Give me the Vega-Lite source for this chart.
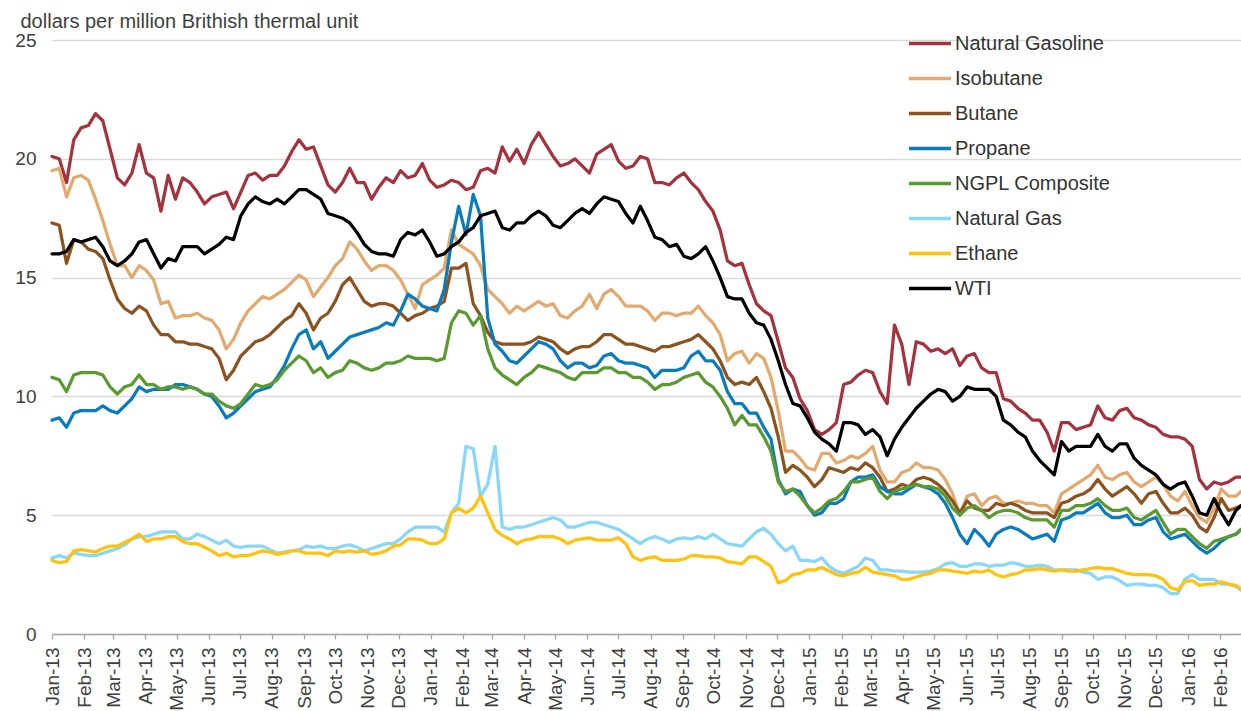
{
"$schema":"https://vega.github.io/schema/vega-lite/v6.json",
"autosize":{"type":"none"},
"width":1189,"height":594,
"padding":{"left":52,"top":40,"right":0,"bottom":77},
"background":"white",
"config":{"view":{"stroke":null},"font":"Liberation Sans"},
"data":{"values":[
{"d":"2013-01-01","a":20.1,"i":19.5,"b":17.3,"p":9.0,"g":10.8,"n":3.2,"e":3.1,"w":16.0},
{"d":"2013-01-08","a":20.0,"i":19.6,"b":17.2,"p":9.1,"g":10.7,"n":3.3,"e":3.0,"w":16.0},
{"d":"2013-01-15","a":19.0,"i":18.4,"b":15.6,"p":8.7,"g":10.2,"n":3.2,"e":3.05,"w":16.1},
{"d":"2013-01-22","a":20.8,"i":19.2,"b":16.6,"p":9.3,"g":10.9,"n":3.4,"e":3.5,"w":16.6},
{"d":"2013-01-29","a":21.3,"i":19.3,"b":16.5,"p":9.4,"g":11.0,"n":3.35,"e":3.55,"w":16.5},
{"d":"2013-02-05","a":21.4,"i":19.1,"b":16.2,"p":9.4,"g":11.0,"n":3.3,"e":3.5,"w":16.6},
{"d":"2013-02-12","a":21.9,"i":18.3,"b":16.1,"p":9.4,"g":11.0,"n":3.3,"e":3.45,"w":16.7},
{"d":"2013-02-19","a":21.6,"i":17.4,"b":15.8,"p":9.6,"g":10.9,"n":3.4,"e":3.6,"w":16.3},
{"d":"2013-02-26","a":20.4,"i":16.4,"b":14.9,"p":9.4,"g":10.4,"n":3.5,"e":3.7,"w":15.7},
{"d":"2013-03-05","a":19.2,"i":15.5,"b":14.1,"p":9.3,"g":10.1,"n":3.6,"e":3.7,"w":15.5},
{"d":"2013-03-12","a":18.9,"i":15.5,"b":13.7,"p":9.6,"g":10.4,"n":3.75,"e":3.85,"w":15.7},
{"d":"2013-03-19","a":19.4,"i":15.0,"b":13.5,"p":9.9,"g":10.5,"n":4.0,"e":4.0,"w":16.0},
{"d":"2013-03-26","a":20.6,"i":15.5,"b":13.8,"p":10.4,"g":10.9,"n":4.1,"e":4.2,"w":16.5},
{"d":"2013-04-02","a":19.4,"i":15.3,"b":13.6,"p":10.2,"g":10.5,"n":4.1,"e":3.9,"w":16.6},
{"d":"2013-04-09","a":19.2,"i":14.9,"b":13.0,"p":10.3,"g":10.5,"n":4.2,"e":4.0,"w":16.0},
{"d":"2013-04-16","a":17.8,"i":13.9,"b":12.6,"p":10.3,"g":10.3,"n":4.3,"e":4.0,"w":15.4},
{"d":"2013-04-23","a":19.3,"i":14.0,"b":12.6,"p":10.3,"g":10.4,"n":4.3,"e":4.1,"w":15.8},
{"d":"2013-04-30","a":18.3,"i":13.3,"b":12.3,"p":10.5,"g":10.4,"n":4.3,"e":4.1,"w":15.7},
{"d":"2013-05-07","a":19.2,"i":13.4,"b":12.3,"p":10.5,"g":10.3,"n":4.0,"e":3.9,"w":16.3},
{"d":"2013-05-14","a":19.0,"i":13.4,"b":12.2,"p":10.4,"g":10.4,"n":4.0,"e":3.8,"w":16.3},
{"d":"2013-05-21","a":18.6,"i":13.5,"b":12.2,"p":10.3,"g":10.3,"n":4.2,"e":3.8,"w":16.3},
{"d":"2013-05-28","a":18.1,"i":13.3,"b":12.1,"p":10.1,"g":10.1,"n":4.1,"e":3.65,"w":16.0},
{"d":"2013-06-04","a":18.4,"i":13.2,"b":12.0,"p":10.0,"g":10.1,"n":3.95,"e":3.5,"w":16.2},
{"d":"2013-06-11","a":18.5,"i":12.8,"b":11.6,"p":9.6,"g":9.8,"n":3.8,"e":3.3,"w":16.4},
{"d":"2013-06-18","a":18.6,"i":12.0,"b":10.7,"p":9.1,"g":9.6,"n":3.95,"e":3.4,"w":16.7},
{"d":"2013-06-25","a":17.9,"i":12.4,"b":11.1,"p":9.3,"g":9.5,"n":3.7,"e":3.25,"w":16.6},
{"d":"2013-07-02","a":18.6,"i":13.1,"b":11.7,"p":9.6,"g":9.7,"n":3.65,"e":3.3,"w":17.6},
{"d":"2013-07-09","a":19.3,"i":13.6,"b":12.0,"p":9.9,"g":10.1,"n":3.7,"e":3.3,"w":18.1},
{"d":"2013-07-16","a":19.4,"i":13.9,"b":12.3,"p":10.2,"g":10.5,"n":3.7,"e":3.4,"w":18.4},
{"d":"2013-07-23","a":19.1,"i":14.2,"b":12.4,"p":10.3,"g":10.4,"n":3.7,"e":3.5,"w":18.2},
{"d":"2013-07-30","a":19.3,"i":14.1,"b":12.6,"p":10.4,"g":10.5,"n":3.55,"e":3.45,"w":18.1},
{"d":"2013-08-06","a":19.3,"i":14.3,"b":12.9,"p":10.8,"g":10.7,"n":3.4,"e":3.35,"w":18.3},
{"d":"2013-08-13","a":19.7,"i":14.5,"b":13.2,"p":11.3,"g":11.1,"n":3.45,"e":3.4,"w":18.1},
{"d":"2013-08-20","a":20.3,"i":14.8,"b":13.4,"p":12.0,"g":11.4,"n":3.5,"e":3.5,"w":18.4},
{"d":"2013-08-27","a":20.8,"i":15.1,"b":13.9,"p":12.6,"g":11.7,"n":3.55,"e":3.5,"w":18.7},
{"d":"2013-09-03","a":20.4,"i":14.9,"b":13.5,"p":12.8,"g":11.5,"n":3.7,"e":3.4,"w":18.7},
{"d":"2013-09-10","a":20.5,"i":14.2,"b":12.8,"p":12.0,"g":11.0,"n":3.65,"e":3.4,"w":18.5},
{"d":"2013-09-17","a":19.7,"i":14.6,"b":13.3,"p":12.3,"g":11.2,"n":3.7,"e":3.4,"w":18.3},
{"d":"2013-09-24","a":18.9,"i":15.0,"b":13.5,"p":11.6,"g":10.8,"n":3.6,"e":3.3,"w":17.7},
{"d":"2013-10-01","a":18.6,"i":15.5,"b":14.0,"p":11.9,"g":11.0,"n":3.6,"e":3.5,"w":17.6},
{"d":"2013-10-08","a":19.0,"i":15.8,"b":14.7,"p":12.2,"g":11.1,"n":3.7,"e":3.45,"w":17.5},
{"d":"2013-10-15","a":19.6,"i":16.5,"b":15.0,"p":12.5,"g":11.5,"n":3.75,"e":3.5,"w":17.3},
{"d":"2013-10-22","a":19.0,"i":16.2,"b":14.5,"p":12.6,"g":11.4,"n":3.65,"e":3.45,"w":16.9},
{"d":"2013-10-29","a":19.0,"i":15.7,"b":14.0,"p":12.7,"g":11.2,"n":3.5,"e":3.5,"w":16.4},
{"d":"2013-11-05","a":18.3,"i":15.3,"b":13.8,"p":12.8,"g":11.1,"n":3.6,"e":3.35,"w":16.1},
{"d":"2013-11-12","a":18.8,"i":15.5,"b":13.9,"p":12.9,"g":11.2,"n":3.7,"e":3.4,"w":16.0},
{"d":"2013-11-19","a":19.2,"i":15.5,"b":13.9,"p":13.1,"g":11.4,"n":3.8,"e":3.5,"w":16.0},
{"d":"2013-11-26","a":19.0,"i":15.3,"b":13.8,"p":13.0,"g":11.4,"n":3.8,"e":3.7,"w":15.9},
{"d":"2013-12-03","a":19.5,"i":14.9,"b":13.5,"p":13.6,"g":11.5,"n":4.0,"e":3.75,"w":16.6},
{"d":"2013-12-10","a":19.2,"i":14.3,"b":13.2,"p":14.3,"g":11.7,"n":4.3,"e":4.0,"w":16.9},
{"d":"2013-12-17","a":19.3,"i":13.7,"b":13.4,"p":14.1,"g":11.6,"n":4.5,"e":4.0,"w":16.8},
{"d":"2013-12-24","a":19.8,"i":14.7,"b":13.5,"p":13.8,"g":11.6,"n":4.5,"e":3.95,"w":17.0},
{"d":"2013-12-31","a":19.1,"i":14.9,"b":13.7,"p":13.7,"g":11.6,"n":4.5,"e":3.8,"w":16.5},
{"d":"2014-01-07","a":18.8,"i":15.1,"b":13.8,"p":13.6,"g":11.5,"n":4.5,"e":3.8,"w":15.9},
{"d":"2014-01-14","a":18.9,"i":15.4,"b":14.0,"p":14.5,"g":11.6,"n":4.3,"e":4.0,"w":16.0},
{"d":"2014-01-21","a":19.1,"i":17.0,"b":15.4,"p":16.5,"g":13.1,"n":5.1,"e":5.1,"w":16.3},
{"d":"2014-01-28","a":19.0,"i":16.4,"b":15.4,"p":18.0,"g":13.6,"n":5.5,"e":5.3,"w":16.5},
{"d":"2014-02-04","a":18.7,"i":16.2,"b":15.6,"p":16.8,"g":13.5,"n":7.9,"e":5.1,"w":16.9},
{"d":"2014-02-11","a":18.8,"i":16.0,"b":13.9,"p":18.5,"g":13.0,"n":7.8,"e":5.3,"w":17.1},
{"d":"2014-02-18","a":19.5,"i":15.5,"b":13.4,"p":17.6,"g":13.4,"n":5.8,"e":5.8,"w":17.6},
{"d":"2014-02-25","a":19.6,"i":14.5,"b":12.7,"p":13.3,"g":12.0,"n":6.3,"e":5.1,"w":17.7},
{"d":"2014-03-04","a":19.4,"i":14.2,"b":12.3,"p":12.2,"g":11.2,"n":7.9,"e":4.4,"w":17.8},
{"d":"2014-03-11","a":20.5,"i":13.9,"b":12.2,"p":11.9,"g":10.9,"n":4.5,"e":4.15,"w":17.1},
{"d":"2014-03-18","a":19.9,"i":13.5,"b":12.2,"p":11.5,"g":10.7,"n":4.4,"e":4.0,"w":17.0},
{"d":"2014-03-25","a":20.4,"i":13.8,"b":12.2,"p":11.4,"g":10.5,"n":4.5,"e":3.8,"w":17.3},
{"d":"2014-04-01","a":19.8,"i":13.6,"b":12.2,"p":11.7,"g":10.8,"n":4.5,"e":3.95,"w":17.3},
{"d":"2014-04-08","a":20.6,"i":13.8,"b":12.3,"p":12.0,"g":11.0,"n":4.6,"e":4.0,"w":17.6},
{"d":"2014-04-15","a":21.1,"i":14.0,"b":12.5,"p":12.3,"g":11.3,"n":4.7,"e":4.1,"w":17.8},
{"d":"2014-04-22","a":20.6,"i":13.8,"b":12.4,"p":12.2,"g":11.2,"n":4.8,"e":4.1,"w":17.6},
{"d":"2014-04-29","a":20.1,"i":13.9,"b":12.3,"p":12.0,"g":11.1,"n":4.9,"e":4.1,"w":17.2},
{"d":"2014-05-06","a":19.7,"i":13.4,"b":12.0,"p":11.5,"g":11.0,"n":4.8,"e":4.0,"w":17.1},
{"d":"2014-05-13","a":19.8,"i":13.3,"b":11.8,"p":11.2,"g":10.8,"n":4.5,"e":3.8,"w":17.4},
{"d":"2014-05-20","a":20.0,"i":13.6,"b":12.0,"p":11.4,"g":10.7,"n":4.5,"e":3.95,"w":17.7},
{"d":"2014-05-27","a":19.7,"i":13.8,"b":12.1,"p":11.4,"g":11.0,"n":4.6,"e":4.0,"w":17.9},
{"d":"2014-06-03","a":19.4,"i":14.3,"b":12.1,"p":11.2,"g":11.0,"n":4.7,"e":4.05,"w":17.7},
{"d":"2014-06-10","a":20.2,"i":13.7,"b":12.3,"p":11.3,"g":11.0,"n":4.7,"e":3.95,"w":18.1},
{"d":"2014-06-17","a":20.4,"i":14.3,"b":12.6,"p":11.7,"g":11.2,"n":4.6,"e":3.95,"w":18.4},
{"d":"2014-06-24","a":20.6,"i":14.5,"b":12.6,"p":11.8,"g":11.2,"n":4.5,"e":3.95,"w":18.3},
{"d":"2014-07-01","a":19.9,"i":14.2,"b":12.4,"p":11.5,"g":11.0,"n":4.4,"e":4.05,"w":18.2},
{"d":"2014-07-08","a":19.6,"i":13.8,"b":12.2,"p":11.4,"g":11.0,"n":4.2,"e":3.8,"w":17.7},
{"d":"2014-07-15","a":19.7,"i":13.8,"b":12.2,"p":11.4,"g":10.8,"n":4.0,"e":3.25,"w":17.3},
{"d":"2014-07-22","a":20.1,"i":13.8,"b":12.1,"p":11.3,"g":10.8,"n":3.8,"e":3.1,"w":18.0},
{"d":"2014-07-29","a":20.0,"i":13.6,"b":12.0,"p":11.2,"g":10.6,"n":4.0,"e":3.2,"w":17.4},
{"d":"2014-08-05","a":19.0,"i":13.2,"b":11.9,"p":10.8,"g":10.3,"n":4.1,"e":3.25,"w":16.7},
{"d":"2014-08-12","a":19.0,"i":13.5,"b":12.1,"p":11.1,"g":10.5,"n":4.0,"e":3.1,"w":16.6},
{"d":"2014-08-19","a":18.9,"i":13.5,"b":12.1,"p":11.1,"g":10.5,"n":3.85,"e":3.1,"w":16.3},
{"d":"2014-08-26","a":19.2,"i":13.4,"b":12.2,"p":11.1,"g":10.6,"n":4.0,"e":3.1,"w":16.4},
{"d":"2014-09-02","a":19.4,"i":13.5,"b":12.3,"p":11.2,"g":10.8,"n":4.05,"e":3.15,"w":15.9},
{"d":"2014-09-09","a":19.0,"i":13.5,"b":12.4,"p":11.7,"g":10.9,"n":4.0,"e":3.3,"w":15.8},
{"d":"2014-09-16","a":18.7,"i":13.8,"b":12.6,"p":11.9,"g":11.0,"n":4.1,"e":3.3,"w":16.0},
{"d":"2014-09-23","a":18.2,"i":13.4,"b":12.3,"p":11.5,"g":10.6,"n":4.0,"e":3.25,"w":16.3},
{"d":"2014-09-30","a":17.8,"i":13.1,"b":12.0,"p":11.5,"g":10.4,"n":4.2,"e":3.25,"w":15.7},
{"d":"2014-10-07","a":17.0,"i":12.6,"b":11.5,"p":11.1,"g":10.0,"n":4.0,"e":3.2,"w":15.0},
{"d":"2014-10-14","a":15.7,"i":11.5,"b":10.8,"p":10.2,"g":9.5,"n":3.8,"e":3.05,"w":14.2},
{"d":"2014-10-21","a":15.5,"i":11.8,"b":10.5,"p":9.7,"g":8.8,"n":3.75,"e":3.0,"w":14.1},
{"d":"2014-10-28","a":15.6,"i":11.9,"b":10.6,"p":9.7,"g":9.2,"n":3.7,"e":2.95,"w":14.1},
{"d":"2014-11-04","a":14.7,"i":11.4,"b":10.5,"p":9.3,"g":8.8,"n":4.0,"e":3.25,"w":13.5},
{"d":"2014-11-11","a":13.9,"i":11.8,"b":10.8,"p":9.3,"g":8.8,"n":4.3,"e":3.25,"w":13.1},
{"d":"2014-11-18","a":13.6,"i":11.6,"b":10.2,"p":8.7,"g":8.3,"n":4.45,"e":3.05,"w":13.0},
{"d":"2014-11-25","a":13.4,"i":10.8,"b":9.5,"p":8.2,"g":7.7,"n":4.2,"e":2.85,"w":12.4},
{"d":"2014-12-02","a":12.3,"i":9.4,"b":8.3,"p":6.5,"g":6.4,"n":3.8,"e":2.15,"w":11.5},
{"d":"2014-12-09","a":11.2,"i":7.7,"b":6.8,"p":5.9,"g":6.0,"n":3.5,"e":2.25,"w":10.5},
{"d":"2014-12-16","a":10.8,"i":7.7,"b":7.1,"p":6.1,"g":6.1,"n":3.7,"e":2.5,"w":9.7},
{"d":"2014-12-23","a":9.9,"i":7.4,"b":6.9,"p":6.0,"g":5.8,"n":3.1,"e":2.55,"w":9.6},
{"d":"2014-12-30","a":9.4,"i":7.0,"b":6.6,"p":5.4,"g":5.4,"n":3.1,"e":2.7,"w":9.1},
{"d":"2015-01-06","a":8.6,"i":6.9,"b":6.2,"p":5.0,"g":5.1,"n":3.05,"e":2.7,"w":8.5},
{"d":"2015-01-13","a":8.4,"i":7.6,"b":6.5,"p":5.1,"g":5.3,"n":3.2,"e":2.8,"w":8.2},
{"d":"2015-01-20","a":8.6,"i":7.6,"b":7.0,"p":5.5,"g":5.6,"n":2.85,"e":2.65,"w":8.0},
{"d":"2015-01-27","a":8.9,"i":7.2,"b":6.9,"p":5.5,"g":5.7,"n":2.65,"e":2.5,"w":7.7},
{"d":"2015-02-03","a":10.5,"i":7.3,"b":6.8,"p":5.7,"g":6.0,"n":2.55,"e":2.45,"w":8.9},
{"d":"2015-02-10","a":10.6,"i":7.5,"b":7.0,"p":6.4,"g":6.4,"n":2.7,"e":2.55,"w":8.9},
{"d":"2015-02-17","a":10.9,"i":7.4,"b":6.9,"p":6.6,"g":6.4,"n":2.85,"e":2.6,"w":8.8},
{"d":"2015-02-24","a":11.1,"i":7.6,"b":7.2,"p":6.6,"g":6.5,"n":3.2,"e":2.8,"w":8.4},
{"d":"2015-03-03","a":11.0,"i":7.9,"b":7.0,"p":6.7,"g":6.6,"n":3.1,"e":2.6,"w":8.6},
{"d":"2015-03-10","a":10.2,"i":6.9,"b":6.6,"p":6.2,"g":6.0,"n":2.7,"e":2.55,"w":8.3},
{"d":"2015-03-17","a":9.7,"i":6.4,"b":6.0,"p":6.0,"g":5.7,"n":2.7,"e":2.5,"w":7.5},
{"d":"2015-03-24","a":13.0,"i":6.4,"b":6.1,"p":5.9,"g":6.0,"n":2.65,"e":2.45,"w":8.2},
{"d":"2015-03-31","a":12.2,"i":6.8,"b":6.3,"p":5.9,"g":6.1,"n":2.65,"e":2.3,"w":8.7},
{"d":"2015-04-07","a":10.5,"i":6.9,"b":6.2,"p":6.1,"g":6.2,"n":2.6,"e":2.3,"w":9.1},
{"d":"2015-04-14","a":12.3,"i":7.2,"b":6.5,"p":6.3,"g":6.3,"n":2.6,"e":2.4,"w":9.5},
{"d":"2015-04-21","a":12.2,"i":7.0,"b":6.6,"p":6.2,"g":6.2,"n":2.6,"e":2.5,"w":9.8},
{"d":"2015-04-28","a":11.9,"i":7.0,"b":6.5,"p":6.1,"g":6.2,"n":2.65,"e":2.55,"w":10.1},
{"d":"2015-05-05","a":12.0,"i":6.9,"b":6.3,"p":5.9,"g":6.1,"n":2.75,"e":2.7,"w":10.3},
{"d":"2015-05-12","a":11.8,"i":6.5,"b":6.0,"p":5.5,"g":5.8,"n":2.95,"e":2.7,"w":10.2},
{"d":"2015-05-19","a":12.0,"i":5.9,"b":5.6,"p":4.9,"g":5.3,"n":3.0,"e":2.65,"w":9.8},
{"d":"2015-05-26","a":11.3,"i":5.0,"b":5.1,"p":4.2,"g":5.0,"n":2.85,"e":2.6,"w":10.0},
{"d":"2015-06-02","a":11.7,"i":5.8,"b":5.6,"p":3.8,"g":5.3,"n":2.85,"e":2.55,"w":10.4},
{"d":"2015-06-09","a":11.8,"i":5.9,"b":5.3,"p":4.4,"g":5.4,"n":2.95,"e":2.65,"w":10.3},
{"d":"2015-06-16","a":11.2,"i":5.4,"b":5.2,"p":4.1,"g":5.2,"n":2.95,"e":2.6,"w":10.3},
{"d":"2015-06-23","a":11.0,"i":5.7,"b":5.2,"p":3.7,"g":4.9,"n":2.85,"e":2.7,"w":10.3},
{"d":"2015-06-30","a":11.0,"i":5.8,"b":5.5,"p":4.2,"g":5.1,"n":2.9,"e":2.5,"w":10.0},
{"d":"2015-07-07","a":9.9,"i":5.5,"b":5.4,"p":4.4,"g":5.2,"n":2.9,"e":2.4,"w":9.0},
{"d":"2015-07-14","a":9.8,"i":5.5,"b":5.5,"p":4.5,"g":5.2,"n":3.0,"e":2.5,"w":8.8},
{"d":"2015-07-21","a":9.5,"i":5.6,"b":5.4,"p":4.4,"g":5.1,"n":2.95,"e":2.55,"w":8.5},
{"d":"2015-07-28","a":9.3,"i":5.5,"b":5.2,"p":4.2,"g":4.9,"n":2.85,"e":2.7,"w":8.3},
{"d":"2015-08-04","a":9.0,"i":5.5,"b":5.1,"p":4.0,"g":4.8,"n":2.85,"e":2.7,"w":7.7},
{"d":"2015-08-11","a":9.0,"i":5.4,"b":5.1,"p":4.1,"g":4.8,"n":2.9,"e":2.75,"w":7.3},
{"d":"2015-08-18","a":8.5,"i":5.4,"b":5.1,"p":4.2,"g":4.8,"n":2.85,"e":2.7,"w":7.0},
{"d":"2015-08-25","a":7.7,"i":5.1,"b":4.9,"p":3.9,"g":4.5,"n":2.7,"e":2.65,"w":6.7},
{"d":"2015-09-01","a":8.9,"i":5.9,"b":5.5,"p":4.8,"g":5.2,"n":2.7,"e":2.7,"w":8.1},
{"d":"2015-09-08","a":8.9,"i":6.1,"b":5.6,"p":4.9,"g":5.2,"n":2.7,"e":2.65,"w":7.7},
{"d":"2015-09-15","a":8.6,"i":6.3,"b":5.8,"p":5.1,"g":5.4,"n":2.7,"e":2.65,"w":7.9},
{"d":"2015-09-22","a":8.7,"i":6.5,"b":5.9,"p":5.1,"g":5.4,"n":2.6,"e":2.7,"w":7.9},
{"d":"2015-09-29","a":8.8,"i":6.7,"b":6.1,"p":5.3,"g":5.5,"n":2.55,"e":2.75,"w":7.9},
{"d":"2015-10-06","a":9.6,"i":7.1,"b":6.5,"p":5.5,"g":5.7,"n":2.3,"e":2.8,"w":8.4},
{"d":"2015-10-13","a":9.1,"i":6.6,"b":6.1,"p":5.1,"g":5.4,"n":2.4,"e":2.75,"w":7.9},
{"d":"2015-10-20","a":9.0,"i":6.5,"b":5.8,"p":4.9,"g":5.2,"n":2.4,"e":2.75,"w":7.7},
{"d":"2015-10-27","a":9.4,"i":6.7,"b":6.0,"p":4.9,"g":5.2,"n":2.25,"e":2.65,"w":8.0},
{"d":"2015-11-03","a":9.5,"i":6.8,"b":6.2,"p":5.0,"g":5.3,"n":2.05,"e":2.55,"w":8.0},
{"d":"2015-11-10","a":9.1,"i":6.4,"b":5.9,"p":4.6,"g":4.9,"n":2.1,"e":2.5,"w":7.4},
{"d":"2015-11-17","a":9.0,"i":6.2,"b":5.5,"p":4.6,"g":4.8,"n":2.1,"e":2.5,"w":7.1},
{"d":"2015-11-24","a":8.8,"i":6.4,"b":5.9,"p":4.8,"g":5.0,"n":2.05,"e":2.5,"w":6.9},
{"d":"2015-12-01","a":8.7,"i":6.6,"b":6.0,"p":4.9,"g":5.2,"n":2.05,"e":2.45,"w":6.7},
{"d":"2015-12-08","a":8.4,"i":6.3,"b":5.5,"p":4.3,"g":4.7,"n":1.95,"e":2.3,"w":6.3},
{"d":"2015-12-15","a":8.3,"i":5.8,"b":5.1,"p":4.0,"g":4.2,"n":1.7,"e":1.95,"w":6.1},
{"d":"2015-12-22","a":8.3,"i":5.6,"b":5.1,"p":4.1,"g":4.4,"n":1.7,"e":1.85,"w":6.3},
{"d":"2015-12-29","a":8.2,"i":6.0,"b":5.3,"p":4.2,"g":4.4,"n":2.3,"e":2.2,"w":6.4},
{"d":"2016-01-05","a":7.9,"i":5.4,"b":5.0,"p":3.9,"g":4.1,"n":2.5,"e":2.25,"w":5.8},
{"d":"2016-01-12","a":6.5,"i":4.9,"b":4.5,"p":3.6,"g":3.8,"n":2.3,"e":2.05,"w":5.1},
{"d":"2016-01-19","a":6.1,"i":4.7,"b":4.3,"p":3.4,"g":3.6,"n":2.3,"e":2.1,"w":5.0},
{"d":"2016-01-26","a":6.4,"i":5.3,"b":4.9,"p":3.6,"g":3.9,"n":2.3,"e":2.1,"w":5.7},
{"d":"2016-02-02","a":6.3,"i":6.1,"b":5.7,"p":3.9,"g":4.0,"n":2.1,"e":2.2,"w":5.1},
{"d":"2016-02-09","a":6.4,"i":5.8,"b":5.2,"p":4.1,"g":4.1,"n":2.1,"e":2.1,"w":4.6},
{"d":"2016-02-16","a":6.6,"i":5.8,"b":5.3,"p":4.2,"g":4.2,"n":2.0,"e":2.05,"w":5.2},
{"d":"2016-02-21","a":6.6,"i":6.0,"b":5.4,"p":4.4,"g":4.4,"n":1.85,"e":1.9,"w":5.4}
]},
"transform":[
{"fold":["a","i","b","p","g","n","e","w"],"as":["k","v"]},
{"lookup":"k","from":{"data":{"values":[
{"k":"a","name":"Natural Gasoline"},{"k":"i","name":"Isobutane"},{"k":"b","name":"Butane"},{"k":"p","name":"Propane"},
{"k":"g","name":"NGPL Composite"},{"k":"n","name":"Natural Gas"},{"k":"e","name":"Ethane"},{"k":"w","name":"WTI"}]},"key":"k","fields":["name"]}}
],
"mark":{"type":"line","strokeWidth":3.25,"strokeJoin":"round","strokeCap":"round"},
"encoding":{
"x":{"field":"d","type":"temporal",
"scale":{"type":"utc","domain":[{"year":2013,"month":1,"date":1,"utc":true},{"year":2016,"month":2,"date":21,"utc":true}]},
"axis":{"title":null,"labelExpr":"utcFormat(datum.value, '%b-%y')","tickCount":{"interval":"month","step":1},
"labelAngle":-90,"labelAlign":"right","labelBaseline":"middle","labelFontSize":19,"labelColor":"#404040",
"labelPadding":8,"tickSize":5,"tickColor":"#A6A6A6","domainColor":"#A6A6A6","domainWidth":1.5,"tickWidth":1.3,
"grid":false,"labelOverlap":false,"labelFlush":false,"labelBound":false}},
"y":{"field":"v","type":"quantitative","scale":{"domain":[0,25],"nice":false},
"axis":{"title":"dollars per million Brithish thermal unit","titleAngle":0,"titleAlign":"left","titleBaseline":"alphabetic",
"titleX":-32,"titleY":-13,"titleFontSize":20,"titleFontWeight":"normal","titleColor":"#404040",
"values":[0,5,10,15,20,25],"domain":false,"ticks":false,"labelFontSize":19,"labelColor":"#404040","labelPadding":16,
"gridColor":"#D9D9D9","gridWidth":1.3}},
"color":{"field":"name","type":"nominal",
"scale":{"domain":["Natural Gasoline","Isobutane","Butane","Propane","NGPL Composite","Natural Gas","Ethane","WTI"],
"range":["#A5323F","#E3AA70","#8C531F","#0A7CBD","#5B9A30","#88D6FA","#FFC20E","#000000"]},
"legend":{"title":null,"orient":"none","legendX":855,"legendY":-14,"symbolType":"stroke","symbolSize":1764,
"symbolStrokeWidth":3.5,"labelFontSize":20,"labelColor":"#333333","labelOffset":2,"clipHeight":35,"rowPadding":0,
"padding":0,"labelLimit":300}}
}
}
